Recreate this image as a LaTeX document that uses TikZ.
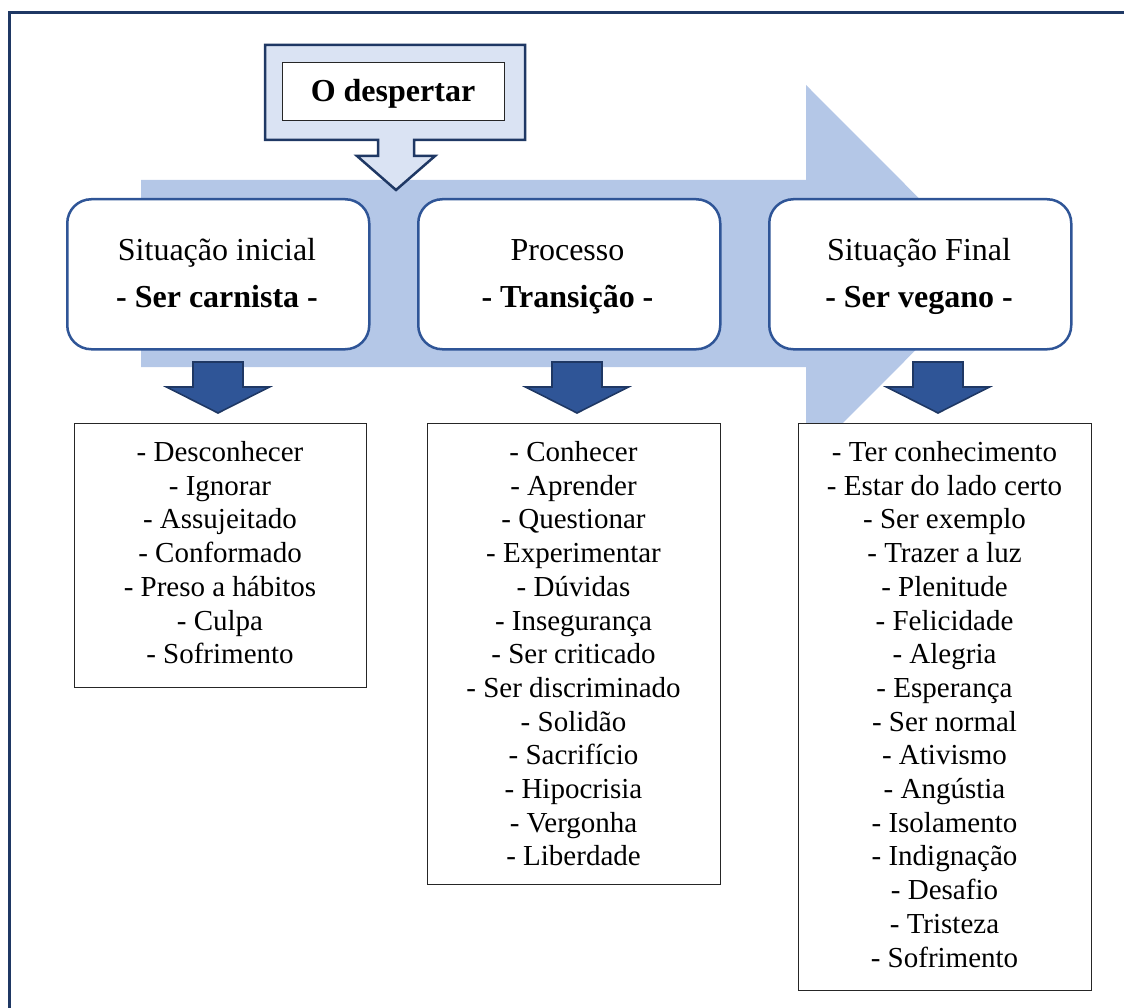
\documentclass[tikz,border=0pt]{standalone}
\usepackage{fontspec}
\setmainfont{Liberation Serif}
\definecolor{framenavy}{HTML}{1F3864}
\definecolor{flowblue}{HTML}{B4C7E7}
\definecolor{calloutfill}{HTML}{DAE3F3}
\definecolor{boxblue}{HTML}{2F5597}
\tikzset{
  frameline/.style={draw=framenavy, line width=3pt},
  stagebox/.style={draw=boxblue, line width=2.5pt, fill=white, rounded corners=24pt,
    minimum width=302pt, minimum height=150pt, anchor=north west, inner sep=0pt},
  listbox/.style={draw=black!85, line width=1.3pt, fill=white, anchor=north west, inner sep=0pt},
  downarrow/.style={draw=framenavy, line width=1.6pt, fill=boxblue, line join=miter},
  titletext/.style={anchor=base, font=\fontsize{32}{38}\selectfont, inner sep=0pt},
  itemtext/.style={anchor=base, font=\fontsize{29}{34}\selectfont, inner sep=0pt}
}
\begin{document}
\begin{tikzpicture}[x=1pt,y=-1pt]
\useasboundingbox (0,0) rectangle (1124,1008);

% outer frame (continues past the right and bottom edges)
\draw[frameline] (9.5,1030) -- (9.5,12.5) -- (1140,12.5);

% large flow arrow in the background
\fill[flowblue] (141,180) -- (806,180) -- (806,85) -- (993,272.5) -- (806,460)
  -- (806,367) -- (141,367) -- cycle;

% callout "O despertar"
\draw[draw=framenavy, line width=2.5pt, fill=calloutfill, line join=miter]
  (265,45) -- (525,45) -- (525,140) -- (414,140) -- (414,156) -- (435,156)
  -- (396,190) -- (357,156) -- (378,156) -- (378,140) -- (265,140) -- cycle;
\node[draw=black!85, line width=1.3pt, fill=white, anchor=north west, inner sep=0pt,
  minimum width=222pt, minimum height=58pt] (wake) at (282,62) {};
\node[titletext, font=\fontsize{32}{38}\selectfont\bfseries] (waket) at (393,101.5) {O despertar};

% stage boxes
\node[stagebox] (s1) at (66,198) {};
\node[stagebox] (s2) at (417,198) {};
\node[stagebox] (s3) at (768,198) {};

\node[titletext] (s1a) at (217,260.5) {Situação inicial};
\node[titletext, font=\fontsize{32}{38}\selectfont\bfseries] (s1b) at (217,307.5) {- Ser carnista -};
\node[titletext] (s2a) at (567.5,260.5) {Processo};
\node[titletext, font=\fontsize{32}{38}\selectfont\bfseries] (s2b) at (567.5,307.5) {- Transição -};
\node[titletext] (s3a) at (919,260.5) {Situação Final};
\node[titletext, font=\fontsize{32}{38}\selectfont\bfseries] (s3b) at (919,307.5) {- Ser vegano -};

% block arrows pointing down to the lists
\foreach \cx in {218,577,938}{
  \draw[downarrow] (\cx-25,362) -- (\cx+25,362) -- (\cx+25,387) -- (\cx+51.5,387)
    -- (\cx,413) -- (\cx-51.5,387) -- (\cx-25,387) -- cycle;
}

% list boxes
\node[listbox, minimum width=292pt, minimum height=264pt] (l1) at (74,423) {};
\node[listbox, minimum width=293pt, minimum height=461pt] (l2) at (427,423) {};
\node[listbox, minimum width=293pt, minimum height=567pt] (l3) at (798,423) {};

\foreach \t [count=\i] in {- Desconhecer,- Ignorar,- Assujeitado,- Conformado,
  - Preso a hábitos,- Culpa,- Sofrimento}{
  \node[itemtext] (a\i) at (220,{461.5+33.7*(\i-1)}) {\t};
}
\foreach \t [count=\i] in {- Conhecer,- Aprender,- Questionar,- Experimentar,- Dúvidas,
  - Insegurança,- Ser criticado,- Ser discriminado,- Solidão,- Sacrifício,
  - Hipocrisia,- Vergonha,- Liberdade}{
  \node[itemtext] (b\i) at (573.5,{461.5+33.7*(\i-1)}) {\t};
}
\foreach \t [count=\i] in {- Ter conhecimento,- Estar do lado certo,- Ser exemplo,
  - Trazer a luz,- Plenitude,- Felicidade,- Alegria,- Esperança,- Ser normal,
  - Ativismo,- Angústia,- Isolamento,- Indignação,- Desafio,- Tristeza,- Sofrimento}{
  \node[itemtext] (c\i) at (944.5,{461.5+33.7*(\i-1)}) {\t};
}
\end{tikzpicture}
\end{document}
